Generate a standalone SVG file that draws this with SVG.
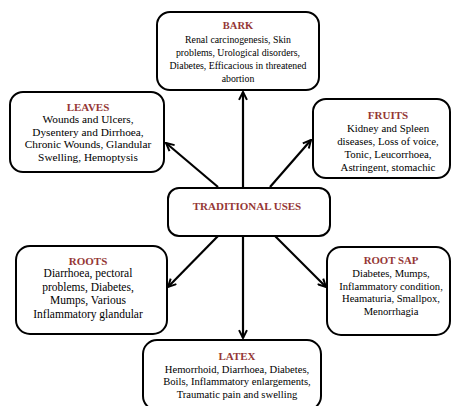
<svg xmlns="http://www.w3.org/2000/svg" width="453" height="406" viewBox="0 0 453 406">
<style>
.box{fill:#fff;stroke:#000;stroke-width:2}
.t{font-family:"Liberation Serif","Times New Roman",serif;font-size:11px;fill:#000;text-anchor:middle}
.h{font-family:"Liberation Serif","Times New Roman",serif;font-size:11px;font-weight:bold;fill:#953735;text-anchor:middle}
.c{stroke:#000;stroke-width:2.2;fill:none}
</style>
<defs>
<marker id="ah" viewBox="0 0 10 10" refX="9" refY="5" markerWidth="4.5" markerHeight="4.5" orient="auto" markerUnits="strokeWidth">
<path d="M1,1 L9,5 L1,9" fill="none" stroke="#000" stroke-width="2"/>
</marker>
</defs>
<rect width="453" height="406" fill="#fff"/>
<g id="connectors">
<line class="c" x1="243" y1="188" x2="243" y2="92" marker-end="url(#ah)"/>
<line class="c" x1="218" y1="187" x2="166" y2="143" marker-end="url(#ah)"/>
<line class="c" x1="270" y1="187" x2="311" y2="140" marker-end="url(#ah)"/>
<line class="c" x1="218" y1="236" x2="168" y2="287" marker-end="url(#ah)"/>
<line class="c" x1="275" y1="236" x2="326" y2="287" marker-end="url(#ah)"/>
<line class="c" x1="243" y1="236" x2="243" y2="338" marker-end="url(#ah)"/>
</g>
<g id="bark">
<rect class="box" x="157" y="12" width="162" height="78" rx="13"/>
<text class="h" x="238" y="28.5" style="font-size:10.5px">BARK</text>
<text class="t" style="font-size:9.8px"><tspan x="238" y="43">Renal carcinogenesis,  Skin</tspan><tspan x="238" y="56">problems, Urological disorders,</tspan><tspan x="238" y="69">Diabetes, Efficacious in threatened</tspan><tspan x="238" y="82">abortion</tspan></text>
</g>
<g id="leaves">
<rect class="box" x="10" y="92" width="154" height="80" rx="13"/>
<text class="h" x="88" y="110.5">LEAVES</text>
<text class="t" style="font-size:11.3px"><tspan x="88" y="123">Wounds and Ulcers,</tspan><tspan x="88" y="135.5">Dysentery and Dirrhoea,</tspan><tspan x="88" y="148">Chronic Wounds,  Glandular</tspan><tspan x="88" y="160.5">Swelling, Hemoptysis</tspan></text>
</g>
<g id="fruits">
<rect class="box" x="313" y="99" width="137" height="79" rx="13"/>
<text class="h" x="388" y="118.5">FRUITS</text>
<text class="t" style="font-size:10.8px"><tspan x="388" y="131.5">Kidney and Spleen</tspan><tspan x="388" y="144.5">diseases, Loss of voice,</tspan><tspan x="388" y="157.5">Tonic, Leucorrhoea,</tspan><tspan x="388" y="170.5">Astringent, stomachic</tspan></text>
</g>
<g id="traditional">
<rect class="box" x="168" y="188" width="162" height="48" rx="11"/>
<text class="h" x="247" y="210">TRADITIONAL USES</text>
</g>
<g id="roots">
<rect class="box" x="16" y="246" width="151" height="88" rx="14"/>
<text class="h" x="88" y="264.5">ROOTS</text>
<text class="t" style="font-size:11.5px"><tspan x="88" y="277">Diarrhoea, pectoral</tspan><tspan x="88" y="290.5">problems, Diabetes,</tspan><tspan x="88" y="304">Mumps, Various</tspan><tspan x="88" y="317.5">Inflammatory glandular</tspan></text>
</g>
<g id="rootsap">
<rect class="box" x="327" y="247" width="123" height="88" rx="14"/>
<text class="h" x="391" y="264" style="font-size:10.8px">ROOT SAP</text>
<text class="t" style="font-size:10.6px"><tspan x="391" y="277">Diabetes, Mumps,</tspan><tspan x="391" y="289.5">Inflammatory condition,</tspan><tspan x="391" y="302">Heamaturia, Smallpox,</tspan><tspan x="391" y="315">Menorrhagia</tspan></text>
</g>
<g id="latex">
<rect class="box" x="143" y="340" width="178" height="70" rx="14"/>
<text class="h" x="237" y="359.5">LATEX</text>
<text class="t" style="font-size:10.6px"><tspan x="237" y="372.5">Hemorrhoid, Diarrhoea, Diabetes,</tspan><tspan x="237" y="385">Boils, Inflammatory enlargements,</tspan><tspan x="237" y="397.5">Traumatic pain and swelling</tspan></text>
</g>
</svg>
